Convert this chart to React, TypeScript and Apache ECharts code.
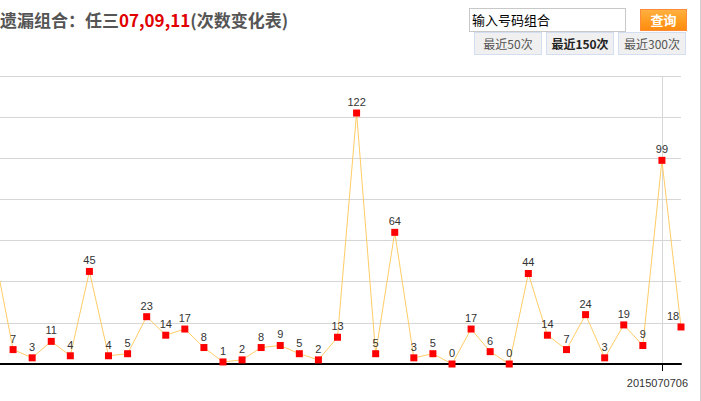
import React, { useEffect, useRef } from "react";
import * as echarts from "echarts";

// ---- data ----
const issues: string[] = [
  "", "", "", "", "", "", "", "", "", "",
  "", "", "", "", "", "", "", "", "", "",
  "", "", "", "", "", "", "", "", "", "",
  "", "", "", "", "", "2015070706", "",
];
// first value is the partially hidden point at the left edge (estimated)
const missCounts: number[] = [
  55, 7, 3, 11, 4, 45, 4, 5, 23, 14, 17, 8, 1, 2, 8, 9, 5, 2, 13, 122,
  5, 64, 3, 5, 0, 17, 6, 0, 44, 14, 7, 24, 3, 19, 9, 99, 18,
];
const yMin = 0;
const yMax = 140;
const yStep = 20;

const titlePrefix = "遗漏组合：任三";
const titleCombo = "07,09,11";
const titleSuffix = "(次数变化表)";
const inputPlaceholder = "输入号码组合";
const queryLabel = "查询";
const rangeButtons = ["最近50次", "最近150次", "最近300次"];
const activeRange = "最近150次";

const cjk = '"Noto Sans CJK SC", "Noto Sans", sans-serif';
const latin = '"Liberation Sans", Arial, sans-serif';

export default function App() {
  const ref = useRef<HTMLDivElement>(null);

  useEffect(() => {
    if (!ref.current) return;
    const chart = echarts.init(ref.current, null, { renderer: "svg" });
    const lastIdx = missCounts.length - 1;
    const showIdx = (i: number) => issues[i] !== "";
    chart.setOption({
      animation: false,
      backgroundColor: "transparent",
      grid: {
        left: 34,
        right: 20,
        top: 76,
        bottom: 37,
        containLabel: false,
        outerBoundsMode: "none",
      },
      xAxis: {
        type: "category",
        data: issues,
        boundaryGap: false,
        axisLine: { show: true, lineStyle: { color: "#000", width: 2 } },
        axisTick: {
          show: true,
          interval: showIdx,
          length: 7,
          lineStyle: { color: "#000", width: 1 },
        },
        axisLabel: {
          show: true,
          interval: showIdx,
          fontSize: 11,
          color: "#333",
          fontFamily: latin,
          margin: 13,
          padding: [0, 9, 0, 0],
        },
        splitLine: {
          show: true,
          interval: showIdx,
          lineStyle: { color: "#d6d6d6", width: 1 },
        },
      },
      yAxis: {
        type: "value",
        min: yMin,
        max: yMax,
        interval: yStep,
        axisLine: { show: false },
        axisTick: { show: false },
        axisLabel: { show: false },
        splitLine: { show: true, lineStyle: { color: "#d6d6d6", width: 1 } },
      },
      series: [
        {
          type: "line",
          data: missCounts.map((v, i) =>
            i === lastIdx
              ? { value: v, label: { offset: [-8, 0] } }
              : i === 0
              ? { value: v, label: { show: false } }
              : v
          ),
          symbol: "rect",
          symbolSize: 7,
          showSymbol: true,
          showAllSymbol: true,
          itemStyle: { color: "#ff0000" },
          lineStyle: { color: "#ffcc66", width: 1 },
          label: {
            show: true,
            position: "top",
            distance: 2,
            fontSize: 11,
            color: "#333",
            fontFamily: latin,
          },
          emphasis: { disabled: true },
        },
      ],
    });
    return () => chart.dispose();
  }, []);

  const btnBase: React.CSSProperties = {
    position: "absolute",
    top: 32,
    height: 23,
    width: 68,
    boxSizing: "border-box",
    border: "1px solid #d3def3",
    background: "#f0f0f0",
    fontFamily: cjk,
    fontSize: 12,
    lineHeight: "21px",
    textAlign: "center",
    color: "#555",
  };

  return (
    <div
      style={{
        position: "fixed",
        left: 0,
        top: 0,
        width: 701,
        height: 401,
        overflow: "hidden",
        background: "#fff",
      }}
    >
      <div
        ref={ref}
        style={{ position: "absolute", left: -40, top: 0, width: 741, height: 401 }}
      />
      <div
        style={{
          position: "absolute",
          left: 0,
          top: 8,
          fontFamily: cjk,
          fontSize: 17,
          fontWeight: "bold",
          color: "#555",
          lineHeight: "24px",
          whiteSpace: "nowrap",
        }}
      >
        {titlePrefix}
        <span style={{ color: "#e00000" }}>{titleCombo}</span>
        {titleSuffix}
      </div>
      <div
        style={{
          position: "absolute",
          left: 469,
          top: 8,
          width: 157,
          height: 24,
          boxSizing: "border-box",
          border: "1px solid #c8c8c8",
          background: "#fff",
          fontFamily: cjk,
          fontSize: 13,
          lineHeight: "22px",
          paddingLeft: 2,
          color: "#000",
        }}
      >
        {inputPlaceholder}
      </div>
      <div
        style={{
          position: "absolute",
          left: 640,
          top: 9,
          width: 47,
          height: 22,
          boxSizing: "border-box",
          border: "1px solid #ff8a3a",
          background: "linear-gradient(#ffb040, #ff9a1e 60%, #ff8c10)",
          fontFamily: cjk,
          fontSize: 13,
          fontWeight: "bold",
          lineHeight: "20px",
          textAlign: "center",
          color: "#fff",
        }}
      >
        {queryLabel}
      </div>
      {rangeButtons.map((b, i) => (
        <div
          key={b}
          style={{
            ...btnBase,
            left: 474 + i * 72,
            fontWeight: b === activeRange ? "bold" : "normal",
            color: b === activeRange ? "#222" : "#555",
          }}
        >
          {b}
        </div>
      ))}
      <div
        style={{
          position: "absolute",
          left: 700,
          top: 0,
          width: 1,
          height: 401,
          background: "#cfcfcf",
        }}
      />
    </div>
  );
}
